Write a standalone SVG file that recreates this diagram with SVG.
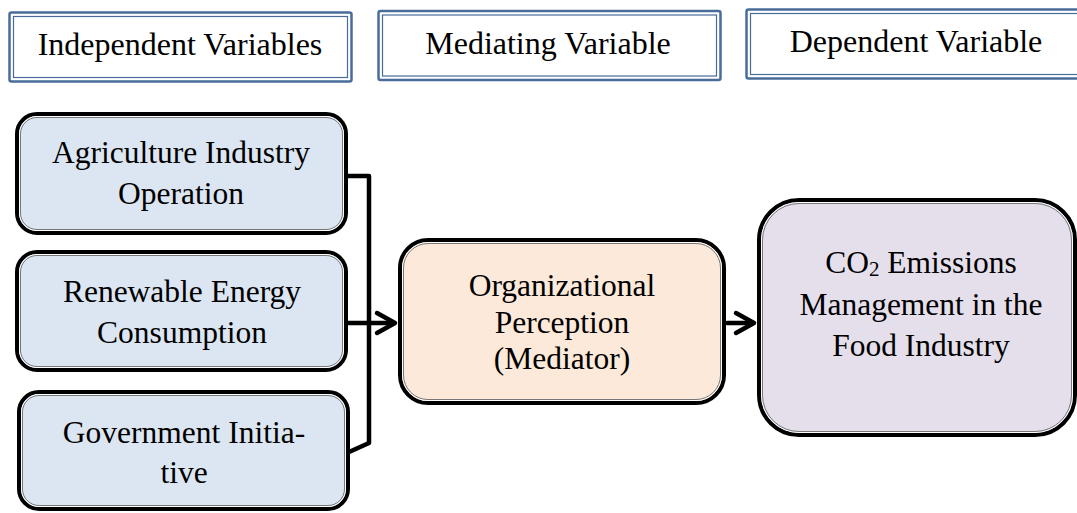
<svg xmlns="http://www.w3.org/2000/svg" width="1077" height="513" viewBox="0 0 1077 513">
<style>
.t{font-family:"Liberation Serif","Times New Roman",serif;fill:#000;text-anchor:middle}
.h{font-size:32px}
.n{font-size:31.5px}
.hb{fill:#fff;stroke:#4a6c9b;stroke-width:2.5}
.hi{fill:none;stroke:#4a6c9b;stroke-width:1.2}
.ob{stroke:#000;stroke-width:4}
.ow{fill:none;stroke:#fff;stroke-width:1}
.og{fill:none;stroke:#777;stroke-width:1}
.c{fill:none;stroke:#000;stroke-width:4.5;stroke-linecap:round;stroke-linejoin:round}
</style>
<rect width="1077" height="513" fill="#fff"/>
<g id="hdr-independent">
<rect class="hb" x="9.5" y="12.5" width="342" height="69" rx="2"/>
<rect class="hi" x="13.5" y="16.5" width="334" height="61"/>
<text class="t h" x="180" y="54.5">Independent Variables</text>
</g>
<g id="hdr-mediating">
<rect class="hb" x="378.5" y="11" width="342" height="69" rx="2"/>
<rect class="hi" x="382.5" y="15" width="334" height="61"/>
<text class="t h" x="548" y="53.5">Mediating Variable</text>
</g>
<g id="hdr-dependent">
<rect class="hb" x="746.5" y="9.5" width="345" height="69" rx="2"/>
<rect class="hi" x="750.5" y="13.5" width="337" height="61"/>
<text class="t h" x="916" y="52">Dependent Variable</text>
</g>
<g id="connectors">
<polyline class="c" points="347,176 369,176 369,443 349,452"/>
<line class="c" x1="347" y1="323" x2="393" y2="323"/>
<polyline class="c" points="377,313 395,323 377,333"/>
<line class="c" x1="727" y1="323" x2="753" y2="323"/>
<polyline class="c" points="736,313 754,323 736,333"/>
</g>
<g id="node-agriculture">
<rect class="ob" x="17" y="114" width="329" height="119" rx="20" fill="#dce6f2"/>
<rect class="ow" x="19.5" y="116.5" width="324" height="114" rx="17.5"/>
<rect class="og" x="20.5" y="117.5" width="322" height="112" rx="16.5"/>
<text class="t n" x="181" y="162.5">Agriculture Industry</text>
<text class="t n" x="181" y="204">Operation</text>
</g>
<g id="node-renewable">
<rect class="ob" x="17" y="252" width="329" height="118" rx="20" fill="#dce6f2"/>
<rect class="ow" x="19.5" y="254.5" width="324" height="113" rx="17.5"/>
<rect class="og" x="20.5" y="255.5" width="322" height="111" rx="16.5"/>
<text class="t n" x="182" y="302">Renewable Energy</text>
<text class="t n" x="182" y="343">Consumption</text>
</g>
<g id="node-government">
<rect class="ob" x="19" y="392" width="329" height="117" rx="20" fill="#dce6f2"/>
<rect class="ow" x="21.5" y="394.5" width="324" height="112" rx="17.5"/>
<rect class="og" x="22.5" y="395.5" width="322" height="110" rx="16.5"/>
<text class="t n" x="184" y="443">Government Initia-</text>
<text class="t n" x="184" y="483">tive</text>
</g>
<g id="node-mediator">
<rect class="ob" x="400" y="240" width="324" height="163" rx="28" fill="#fde9d9"/>
<rect class="ow" x="402.5" y="242.5" width="319" height="158" rx="25.5"/>
<rect class="og" x="403.5" y="243.5" width="317" height="156" rx="24.5"/>
<text class="t n" x="562" y="295.5">Organizational</text>
<text class="t n" x="562" y="332.5">Perception</text>
<text class="t n" x="562" y="369">(Mediator)</text>
</g>
<g id="node-co2">
<rect class="ob" x="759" y="200" width="316" height="235" rx="40" fill="#e5dfec"/>
<rect class="ow" x="761.5" y="202.5" width="311" height="230" rx="37.5"/>
<rect class="og" x="762.5" y="203.5" width="309" height="228" rx="36.5"/>
<text class="t n" x="921" y="273">CO<tspan font-size="21" dy="3">2</tspan><tspan dy="-3"> Emissions</tspan></text>
<text class="t n" x="921" y="315">Management in the</text>
<text class="t n" x="921" y="356">Food Industry</text>
</g>
</svg>
